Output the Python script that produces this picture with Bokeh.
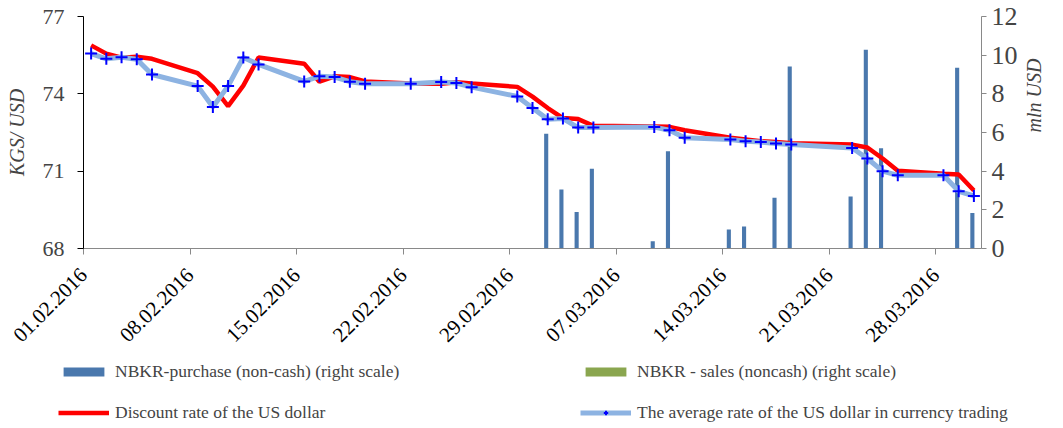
import math
from bokeh.plotting import figure
from bokeh.layouts import column
from bokeh.models import Range1d, LinearAxis, FixedTicker, Legend, LegendItem, ColumnDataSource
from bokeh.embed import file_html
from bokeh.resources import INLINE

# ---- data (days counted from 01.02.2016) ----
trade_days = [0, 1, 2, 3, 4, 7, 8, 9, 10, 11, 14, 15, 16, 17, 18, 21, 23, 24, 25,
              28, 29, 30, 31, 32, 33, 37, 38, 39, 42, 43, 44, 45, 46, 50, 51, 52, 53,
              56, 57, 58]
avg_rate = [75.56, 75.36, 75.42, 75.34, 74.75, 74.30, 73.49, 74.30, 75.41, 75.14,
            74.48, 74.68, 74.65, 74.47, 74.39, 74.39, 74.46, 74.42, 74.26,
            73.90, 73.45, 73.01, 73.04, 72.69, 72.69, 72.71, 72.59, 72.30,
            72.23, 72.16, 72.13, 72.07, 72.03, 71.90, 71.49, 71.00, 70.84,
            70.84, 70.22, 70.04]
discount_rate = [75.88, 75.56, 75.40, 75.44, 75.36, 74.80, 74.28, 73.52, 74.32, 75.41,
                 75.17, 74.47, 74.68, 74.65, 74.48, 74.40, 74.39, 74.45, 74.40,
                 74.27, 73.89, 73.45, 73.06, 73.02, 72.76, 72.73, 72.72, 72.59,
                 72.30, 72.23, 72.16, 72.13, 72.08, 72.03, 71.92, 71.49, 71.02,
                 70.90, 70.87, 70.25]
purchase_days = [30, 31, 32, 33, 37, 38, 42, 43, 45, 46, 50, 51, 52, 57, 58]
purchase_mln = [5.94, 3.05, 1.89, 4.13, 0.38, 5.03, 0.98, 1.14, 2.63, 9.42,
                2.69, 10.28, 5.18, 9.35, 1.84]
sales_mln = [0] * len(purchase_days)
tick_days = [0, 7, 14, 21, 28, 35, 42, 49, 56]
tick_labels = ["01.02.2016", "08.02.2016", "15.02.2016", "22.02.2016", "29.02.2016",
               "07.03.2016", "14.03.2016", "21.03.2016", "28.03.2016"]

FONT = "'Liberation Serif'"
W = 1058
BAR_BLUE = "#4A78AD"
BAR_GREEN = "#8AA64F"
RED = "#FF0000"
LIGHT = "#8DB3E2"
PLUS = "#0000FF"

line_src = ColumnDataSource(dict(x=[d + 0.5 for d in trade_days], avg=avg_rate, disc=discount_rate))
bar_src = ColumnDataSource(dict(x=[d + 0.4 for d in purchase_days], buy=purchase_mln,
                                xs=[d + 0.6 for d in purchase_days], sell=sales_mln))


def add_series(fig, y_range_name, marker_size):
    b = fig.vbar(x="x", top="buy", width=0.27, source=bar_src, y_range_name=y_range_name,
                 fill_color=BAR_BLUE, line_color=None)
    s = fig.vbar(x="xs", top="sell", width=0.27, source=bar_src, y_range_name=y_range_name,
                 fill_color=BAR_GREEN, line_color=None)
    r = fig.line(x="x", y="disc", source=line_src, line_color=RED, line_width=4.5)
    a = fig.line(x="x", y="avg", source=line_src, line_color=LIGHT, line_width=5)
    m = fig.scatter(x="x", y="avg", source=line_src, marker="cross", size=marker_size,
                    line_color=PLUS, line_width=2)
    return b, s, r, a, m


p = figure(width=W, height=355, output_backend="svg", toolbar_location=None,
           x_range=Range1d(0, 59), y_range=Range1d(68, 77),
           min_border_left=83, min_border_right=W - 982, min_border_top=16, min_border_bottom=107)
p.extra_y_ranges = {"mln": Range1d(0, 12)}
p.outline_line_color = None
p.grid.visible = False
add_series(p, "mln", 12)

# axes
xa = p.xaxis[0]
xa.ticker = FixedTicker(ticks=tick_days)
xa.major_label_overrides = {d: l for d, l in zip(tick_days, tick_labels)}
xa.major_label_orientation = math.pi / 4
xa.axis_line_color = "#898989"
xa.major_tick_line_color = "#898989"
xa.major_tick_out = 6
xa.major_tick_in = 0
xa.minor_tick_line_color = None
xa.major_label_text_font = FONT
xa.major_label_text_font_size = "21px"
xa.major_label_text_color = "black"
xa.major_label_standoff = 17

ya = p.yaxis[0]
ya.ticker = FixedTicker(ticks=[68, 71, 74, 77])
ya.axis_line_color = "black"
ya.major_tick_line_color = "black"
ya.major_tick_out = 6
ya.major_tick_in = 0
ya.minor_tick_line_color = None
ya.major_label_text_font = FONT
ya.major_label_text_font_size = "22px"
ya.major_label_standoff = 13
ya.axis_label = "KGS/ USD"
ya.axis_label_text_font = FONT
ya.axis_label_text_font_style = "italic"
ya.axis_label_text_font_size = "20px"
ya.axis_label_standoff = 12

ra = LinearAxis(y_range_name="mln", ticker=FixedTicker(ticks=[0, 2, 4, 6, 8, 10, 12]))
ra.axis_line_color = "#898989"
ra.major_tick_line_color = "#898989"
ra.major_tick_out = 5
ra.major_tick_in = 0
ra.minor_tick_line_color = None
ra.major_label_text_font = FONT
ra.major_label_text_font_size = "26px"
ra.major_label_standoff = 5
ra.axis_label = "mln USD"
ra.axis_label_text_font = FONT
ra.axis_label_text_font_style = "italic"
ra.axis_label_text_font_size = "20px"
ra.axis_label_standoff = 13
try:
    ra.axis_label_orientation = math.pi / 2
except Exception:
    pass
p.add_layout(ra, "right")

# ---- legend strip below the chart (same series, ranges chosen so marks fall outside view) ----
q = figure(width=W, height=69, output_backend="svg", toolbar_location=None,
           x_range=Range1d(-200, -199), y_range=Range1d(-200, -199),
           x_axis_type=None, y_axis_type=None,
           min_border=0, min_border_left=0, min_border_right=0, min_border_top=0, min_border_bottom=0)
q.extra_y_ranges = {"mln": Range1d(-200, -199)}
q.outline_line_color = None
q.grid.visible = False
lb, ls, lr, la, lp = add_series(q, "mln", 8)
for fig in (p, q):
    try:
        fig.frame_align = False
    except Exception:
        pass


def make_legend(items, loc):
    return Legend(items=items, location=loc, orientation="vertical",
                  glyph_width=51, glyph_height=11, label_height=20, spacing=20,
                  padding=0, margin=0, border_line_color=None, background_fill_alpha=0,
                  label_text_font=FONT, label_text_font_size="17.5px", label_standoff=6)


q.add_layout(make_legend([LegendItem(label="NBKR-purchase (non-cash) (right scale)", renderers=[lb]),
                          LegendItem(label="Discount rate of the US dollar", renderers=[lr])],
                         (58, 1)), "center")
q.add_layout(make_legend([LegendItem(label="NBKR - sales (noncash) (right scale)", renderers=[ls]),
                          LegendItem(label="The average rate of the US dollar in currency trading",
                                     renderers=[la, lp])],
                         (580, 1)), "center")

open("out.html", "w").write(file_html(column(p, q), INLINE))
